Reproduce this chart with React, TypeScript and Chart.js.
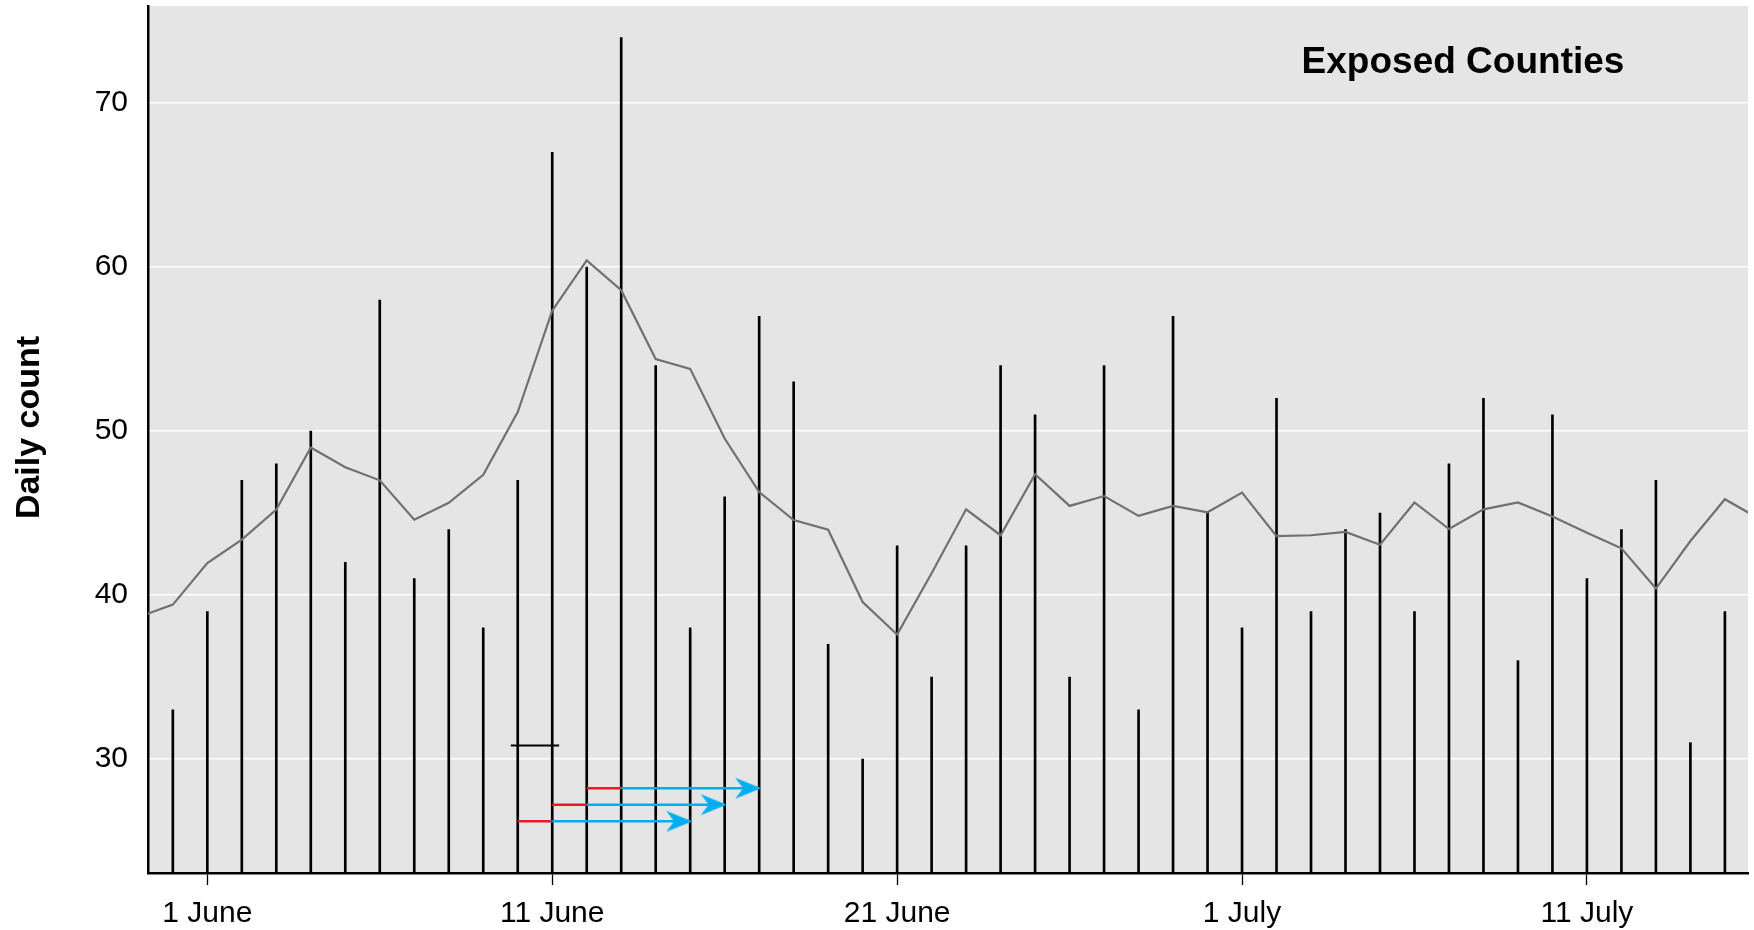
import React, { useEffect, useRef } from 'react';
import { Chart, registerables } from 'chart.js';

Chart.register(...registerables);

// Calendar days shown on the chart
const dates = [
  '30 May', '31 May',
  '1 June', '2 June', '3 June', '4 June', '5 June', '6 June', '7 June', '8 June', '9 June', '10 June',
  '11 June', '12 June', '13 June', '14 June', '15 June', '16 June', '17 June', '18 June', '19 June', '20 June',
  '21 June', '22 June', '23 June', '24 June', '25 June', '26 June', '27 June', '28 June', '29 June', '30 June',
  '1 July', '2 July', '3 July', '4 July', '5 July', '6 July', '7 July', '8 July', '9 July', '10 July',
  '11 July', '12 July', '13 July', '14 July', '15 July', '16 July',
];

// Daily counts (spikes); the first and last day only carry the average
const dailyCounts = [
  null, 33,
  39, 47, 48, 50, 42, 58, 41, 44, 38, 47,
  67, 60, 74, 54, 38, 46, 57, 53, 37, 30,
  43, 35, 43, 54, 51, 35, 54, 33, 57, 45,
  38, 52, 39, 44, 45, 39, 48, 52, 36, 51,
  41, 44, 47, 31, 39, null,
];

// Smoothed daily count (grey line)
const movingAverage = [
  38.65, 39.42,
  41.95, 43.38, 45.22, 49.0, 47.8, 47.0, 44.6, 45.63, 47.34, 51.16,
  57.35, 60.42, 58.6, 54.4, 53.8, 49.55, 46.28, 44.58, 43.99, 39.58,
  37.6, 41.33, 45.23, 43.65, 47.37, 45.44, 46.04, 44.83, 45.44, 45.05,
  46.25, 43.6, 43.65, 43.85, 43.07, 45.65, 44.03, 45.23, 45.65, 44.8,
  43.8, 42.85, 40.4, 43.3, 45.85, 44.65,
];

// Axes
const yTicks = [30, 40, 50, 60, 70];
const xTickDates = ['1 June', '11 June', '21 June', '1 July', '11 July'];
const xExtent = [-1.72, 44.67]; // days from 1 June
const yExtent = [23.05, 75.93];

// Short black marker
const markerFrom = '10 June';
const markerTo = '11 June';
const markerOverhang = 0.2;
const markerLevel = 30.83;

// Red lag segments followed by blue arrows
const arrowStarts = ['10 June', '11 June', '12 June'];
const arrowBreaks = ['11 June', '12 June', '13 June'];
const arrowEnds = ['15 June', '16 June', '17 June'];
const arrowLevels = [26.2, 27.22, 28.22];

const panelTitle = 'Exposed Counties';
const yTitle = 'Daily count';

const monthStart: Record<string, number> = { May: -31, June: 0, July: 30 };
const dayOf = (label: string) => {
  const [d, m] = label.split(' ');
  return Number(d) - 1 + monthStart[m];
};

const RED = '#ed1c24';
const BLUE = '#00aeef';
const TICK_FONT = "'Liberation Sans Narrow', 'Arial Narrow', 'Liberation Sans', Arial, sans-serif";
const BOLD_FONT = "'Liberation Sans', Arial, sans-serif";

function makeArrowHead(): HTMLCanvasElement {
  // tip sits just right of the canvas centre so the point lands on the end date
  const c = document.createElement('canvas');
  c.width = 56;
  c.height = 24;
  const g = c.getContext('2d')!;
  g.fillStyle = BLUE;
  g.beginPath();
  g.moveTo(30, 12);
  g.lineTo(4, 1.5);
  g.lineTo(12, 12);
  g.lineTo(4, 22.5);
  g.closePath();
  g.fill();
  return c;
}

const plotBackdrop = {
  id: 'plotBackdrop',
  beforeDraw(chart: any) {
    const { ctx, chartArea: a } = chart;
    ctx.save();
    ctx.fillStyle = '#e5e5e5';
    ctx.fillRect(a.left, a.top, a.right - a.left, a.bottom - a.top);
    ctx.restore();
  },
};

const panelText = {
  id: 'panelText',
  afterDraw(chart: any) {
    const { ctx, chartArea: a } = chart;
    ctx.save();
    ctx.fillStyle = '#000';
    ctx.font = `bold 37px ${BOLD_FONT}`;
    ctx.textAlign = 'center';
    ctx.textBaseline = 'alphabetic';
    ctx.fillText(panelTitle, a.right - 285, a.top + 67);

    ctx.font = `bold 34px ${BOLD_FONT}`;
    ctx.translate(39, 427.5);
    ctx.rotate(-Math.PI / 2);
    ctx.fillText(yTitle, 0, 0);
    ctx.restore();
  },
};

export default function App() {
  const ref = useRef<HTMLCanvasElement | null>(null);

  useEffect(() => {
    document.body.style.margin = '0';
    const canvas = ref.current;
    if (!canvas) return;
    const arrowHead = makeArrowHead();

    const spikes = dates
      .map((d, i) => ({ x: dayOf(d), y: dailyCounts[i] }))
      .filter((p) => p.y !== null);
    const average = dates.map((d, i) => ({ x: dayOf(d), y: movingAverage[i] }));

    const redSegments = arrowStarts.map((s, i) => ({
      type: 'line' as const,
      data: [
        { x: dayOf(s), y: arrowLevels[i] },
        { x: dayOf(arrowBreaks[i]), y: arrowLevels[i] },
      ],
      borderColor: RED,
      borderWidth: 2.5,
      pointRadius: 0,
      order: 1,
      clip: 0,
    }));
    const blueArrows = arrowBreaks.map((s, i) => ({
      type: 'line' as const,
      data: [
        { x: dayOf(s), y: arrowLevels[i] },
        { x: dayOf(arrowEnds[i]), y: arrowLevels[i] },
      ],
      borderColor: BLUE,
      borderWidth: 2.5,
      pointRadius: [0, 12],
      pointStyle: ['circle', arrowHead] as any,
      order: 1,
      clip: 0,
    }));

    const chart = new Chart(canvas, {
      type: 'bar',
      data: {
        datasets: [
          {
            type: 'bar',
            data: spikes as any,
            backgroundColor: '#000',
            barThickness: 2,
            base: yExtent[0],
            order: 3,
            clip: 0,
          } as any,
          {
            type: 'line',
            data: average,
            borderColor: '#707070',
            borderWidth: 2.2,
            pointRadius: 0,
            tension: 0,
            order: 2,
            clip: 0,
          },
          {
            type: 'line',
            data: [
              { x: dayOf(markerFrom) - markerOverhang, y: markerLevel },
              { x: dayOf(markerTo) + markerOverhang, y: markerLevel },
            ],
            borderColor: '#000',
            borderWidth: 2,
            pointRadius: 0,
            order: 1,
            clip: 0,
          },
          ...redSegments,
          ...blueArrows,
        ] as any,
      },
      options: {
        responsive: false,
        maintainAspectRatio: false,
        devicePixelRatio: 1,
        animation: false,
        events: [],
        layout: { autoPadding: false, padding: { left: 0, right: 6, top: 6, bottom: 0 } },
        plugins: {
          legend: { display: false },
          tooltip: { enabled: false },
          title: { display: false },
        },
        scales: {
          x: {
            type: 'linear',
            min: xExtent[0],
            max: xExtent[1],
            offset: false,
            grid: {
              display: true,
              offset: false,
              drawOnChartArea: false,
              drawTicks: true,
              tickLength: 12,
              tickColor: '#000',
              tickWidth: 1.3,
              color: '#000',
            },
            border: { display: true, color: '#000', width: 2.5 },
            ticks: {
              autoSkip: false,
              maxRotation: 0,
              padding: 11,
              color: '#000',
              font: { family: TICK_FONT, size: 30 },
              callback: (v: any) => {
                const idx = xTickDates.findIndex((d) => dayOf(d) === Number(v));
                return idx >= 0 ? xTickDates[idx] : '';
              },
            },
            afterBuildTicks: (scale: any) => {
              scale.ticks = xTickDates.map((d) => ({ value: dayOf(d) }));
            },
            afterFit: (scale: any) => {
              scale.height = 57;
              scale.paddingLeft = 0;
              scale.paddingRight = 0;
            },
          },
          y: {
            type: 'linear',
            min: yExtent[0],
            max: yExtent[1],
            beginAtZero: false,
            grid: {
              display: true,
              drawTicks: false,
              color: '#ffffff',
              lineWidth: 1.5,
            },
            border: { display: true, color: '#000', width: 2.5 },
            ticks: {
              padding: 20,
              color: '#000',
              font: { family: TICK_FONT, size: 30 },
            },
            afterBuildTicks: (scale: any) => {
              scale.ticks = yTicks.map((v) => ({ value: v }));
            },
            afterFit: (scale: any) => {
              scale.width = 148;
              scale.paddingTop = 0;
              scale.paddingBottom = 0;
            },
          },
        },
      } as any,
      plugins: [plotBackdrop, panelText],
    });

    return () => chart.destroy();
  }, []);

  return <canvas ref={ref} width={1754} height={930} style={{ display: 'block' }} />;
}
